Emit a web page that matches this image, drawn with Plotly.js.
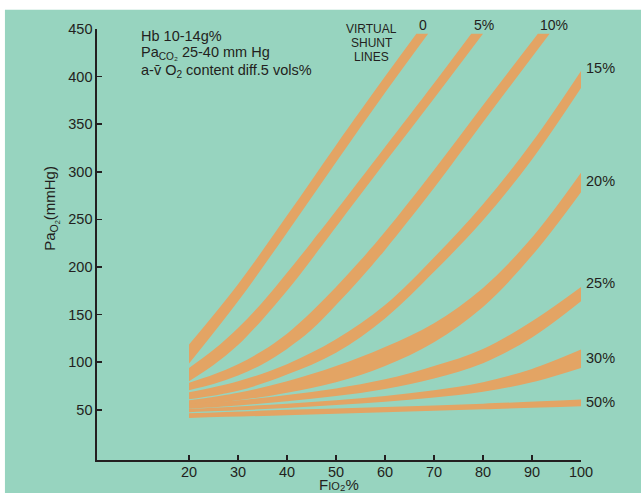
<!DOCTYPE html>
<html>
<head>
<meta charset="utf-8">
<script src="https://cdn.plot.ly/plotly-3.0.1.min.js"></script>
<style>html,body{margin:0;padding:0;background:#fff;}#chart{width:641px;height:493px;}</style>
</head>
<body>
<div id="chart"></div>
<script>
// ---- Data ----
const shuntLabels = ['0', '5%', '10%', '15%', '20%', '25%', '30%', '50%'];

const shunt0UpperX = [20, 30, 40, 50, 60, 66.4];
const shunt0UpperY = [118.6, 182, 254, 328, 400, 445];
const shunt0LowerX = [20, 30, 40, 50, 60, 68.8];
const shunt0LowerY = [98.6, 164, 236, 310, 383, 445];

const shunt5UpperX = [20, 25, 30, 35, 40, 45, 50, 60, 70, 77.6];
const shunt5UpperY = [94, 113, 136, 163, 194, 226, 259, 326, 393, 445];
const shunt5LowerX = [20, 25, 30, 35, 40, 45, 50, 60, 70, 80];
const shunt5LowerY = [80, 97, 118, 145, 175, 208, 242, 310, 377, 445];

const shunt10UpperX = [20, 25, 30, 35, 40, 45, 50, 55, 60, 70, 80, 91.2];
const shunt10UpperY = [78.4, 87, 98, 112, 130, 153, 179, 207, 237, 302, 370, 445];
const shunt10LowerX = [20, 25, 30, 35, 40, 45, 50, 55, 60, 70, 80, 93.6];
const shunt10LowerY = [70.6, 77, 86, 98, 114, 134, 160, 188, 218, 283, 352, 445];

const fio2 = [20, 30, 40, 50, 60, 70, 80, 90, 100];
const shunt15UpperY = [68.5, 80, 98, 124, 160, 210, 266, 331, 406];
const shunt15LowerY = [61, 70, 87, 110, 146, 195, 249, 313, 388];
const shunt20UpperY = [60, 68, 80, 96, 116, 141, 178, 231, 299];
const shunt20LowerY = [55, 60, 68, 79, 96, 121, 158, 212, 278.6];
const shunt25UpperY = [56, 60, 65.5, 72.5, 82, 96, 114, 143, 179];
const shunt25LowerY = [51, 54.5, 59, 64.5, 72, 83, 99, 126, 164];
const shunt30UpperY = [51, 53.5, 56.5, 60, 64.5, 70.5, 79, 93, 113.3];
const shunt30LowerY = [47.5, 49.5, 52, 55, 58.5, 63, 69, 79, 94];

const shunt50X = [20, 40, 60, 80, 100];
const shunt50UpperY = [46.3, 50, 53, 56.5, 60.8];
const shunt50LowerY = [41.5, 44.3, 47.5, 50.5, 53.8];

const xTicks = [20, 30, 40, 50, 60, 70, 80, 90, 100];
const yTicks = [50, 100, 150, 200, 250, 300, 350, 400, 450];

const noteLines = ['Hb 10-14g%', 'Pa<sub>CO₂</sub> 25-40 mm Hg', 'a-v\u0304 O<sub>2</sub> content diff.5 vols%'];
const headerLines = ['VIRTUAL', 'SHUNT', 'LINES'];

// ---- Styling ----
const TEAL = '#97d4bf';
const ORANGE = '#e3a464';
const INK = '#231f20';
const FONT = 'Liberation Sans, Arial, Helvetica, sans-serif';

const bands = [
  [shunt0LowerX, shunt0LowerY, shunt0UpperX, shunt0UpperY],
  [shunt5LowerX, shunt5LowerY, shunt5UpperX, shunt5UpperY],
  [shunt10LowerX, shunt10LowerY, shunt10UpperX, shunt10UpperY],
  [fio2, shunt15LowerY, fio2, shunt15UpperY],
  [fio2, shunt20LowerY, fio2, shunt20UpperY],
  [fio2, shunt25LowerY, fio2, shunt25UpperY],
  [fio2, shunt30LowerY, fio2, shunt30UpperY],
  [shunt50X, shunt50LowerY, shunt50X, shunt50UpperY]
];

const traces = [];
bands.forEach((b, i) => {
  traces.push({
    x: b[0], y: b[1], type: 'scatter', mode: 'lines',
    line: {width: 0, color: ORANGE, shape: 'spline', smoothing: 1},
    hoverinfo: 'skip', showlegend: false, name: shuntLabels[i] + ' low'
  });
  traces.push({
    x: b[2], y: b[3], type: 'scatter', mode: 'lines',
    line: {width: 0, color: ORANGE, shape: 'spline', smoothing: 1},
    fill: 'tonexty', fillcolor: ORANGE,
    hoverinfo: 'skip', showlegend: false, name: shuntLabels[i]
  });
});

// annotation positions (paper coords)
const topLabelPos = [[0.673, 1.010], [0.799, 1.010], [0.944, 1.010]];
const sideLabelPos = [[1.006, 0.9095], [1.006, 0.6466], [1.006, 0.4102], [1.006, 0.2361], [1.006, 0.1353]];
const annotations = [];
for (let i = 0; i < 3; i++) {
  annotations.push({xref: 'paper', yref: 'paper', x: topLabelPos[i][0], y: topLabelPos[i][1],
    text: shuntLabels[i], showarrow: false, xanchor: 'center', yanchor: 'middle',
    font: {family: FONT, size: 14, color: INK}});
}
for (let i = 3; i < 8; i++) {
  const p = sideLabelPos[i - 3];
  annotations.push({xref: 'paper', yref: 'paper', x: p[0], y: p[1],
    text: shuntLabels[i], showarrow: false, xanchor: 'left', yanchor: 'middle',
    font: {family: FONT, size: 14.5, color: INK}});
}
const headerY = [1.0, 0.968, 0.936];
headerLines.forEach((t, i) => annotations.push({xref: 'paper', yref: 'paper', x: 0.568, y: headerY[i],
  text: t, showarrow: false, xanchor: 'center', yanchor: 'middle',
  font: {family: FONT, size: 12, color: INK}}));
const noteY = [0.984, 0.944, 0.903];
noteLines.forEach((t, i) => annotations.push({xref: 'paper', yref: 'paper', x: 0.0875, y: noteY[i],
  text: t, showarrow: false, xanchor: 'left', yanchor: 'middle', align: 'left',
  font: {family: FONT, size: 14.5, color: INK}}));
// axis titles
annotations.push({xref: 'paper', yref: 'paper', x: -0.093, y: 0.585, textangle: -90,
  text: 'Pa<sub>O<sub>2</sub></sub>(mmHg)', showarrow: false, xanchor: 'center', yanchor: 'middle',
  font: {family: FONT, size: 15, color: INK}});
annotations.push({xref: 'paper', yref: 'paper', x: 0.5, y: -0.058,
  text: 'F<span style="font-size:11px">IO</span>₂%', showarrow: false, xanchor: 'center', yanchor: 'middle',
  borderpad: 0, font: {family: FONT, size: 15, color: INK}});

const layout = {
  width: 641, height: 493,
  margin: {l: 97, r: 60, t: 29, b: 33, pad: 0},
  paper_bgcolor: '#ffffff',
  plot_bgcolor: 'rgba(0,0,0,0)',
  font: {family: FONT, color: INK, size: 14},
  showlegend: false,
  xaxis: {
    range: [1.22, 100], tickvals: xTicks, ticktext: xTicks.map(String),
    showline: true, linecolor: INK, linewidth: 1.6, ticks: 'inside', ticklen: 5, tickwidth: 1.5, tickcolor: INK,
    ticklabelstandoff: -2,
    showgrid: false, zeroline: false, tickfont: {family: FONT, size: 14.5, color: INK}, fixedrange: true
  },
  yaxis: {
    range: [-2.7, 450], tickvals: yTicks, ticktext: yTicks.map(String),
    showline: true, linecolor: INK, linewidth: 1.6, ticks: 'inside', ticklen: 5, tickwidth: 1.5, tickcolor: INK,
    showgrid: false, zeroline: false, tickfont: {family: FONT, size: 14.5, color: INK}, fixedrange: true
  },
  shapes: [{type: 'rect', xref: 'paper', yref: 'paper', x0: -0.1902, x1: 1.13, y0: -0.08, y1: 1.0448,
    fillcolor: TEAL, line: {width: 0}, layer: 'below'}],
  annotations: annotations
};

Plotly.newPlot('chart', traces, layout, {displayModeBar: false, staticPlot: true});
</script>
</body>
</html>
